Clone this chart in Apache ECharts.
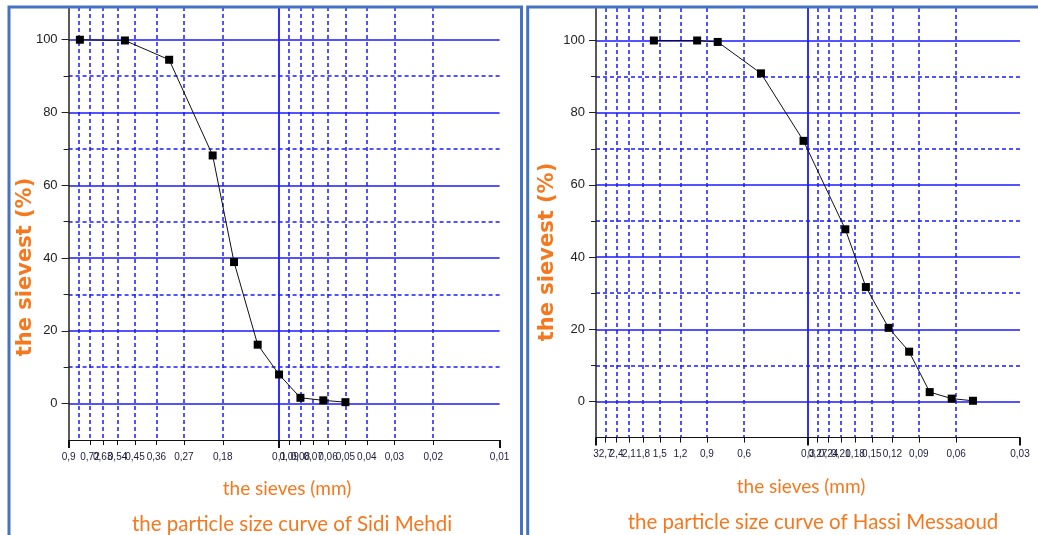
<!DOCTYPE html>
<html><head><meta charset="utf-8">
<script src="https://cdn.jsdelivr.net/npm/echarts@6/dist/echarts.min.js"></script>
<style>html,body{margin:0;padding:0;background:#fff;} #c{width:1038px;height:535px;}</style>
</head><body><div id="c"></div>
<script>
// ---- data ----
const sieveSidi = [0.8, 0.5, 0.315, 0.2, 0.16, 0.125, 0.1, 0.08, 0.063, 0.05];
const passSidi  = [100, 99.8, 94.5, 68.2, 38.9, 16.2, 8.0, 1.6, 0.9, 0.4];
const sieveHassi = [1.6, 1.0, 0.8, 0.5, 0.315, 0.2, 0.16, 0.125, 0.1, 0.08, 0.063, 0.05];
const passHassi  = [100, 100, 99.6, 90.9, 72.2, 47.7, 31.7, 20.4, 13.8, 2.6, 0.8, 0.2];

const ticksSidi = [0.9,0.81,0.72,0.63,0.54,0.45,0.36,0.27,0.18,0.1,0.09,0.08,0.07,0.06,0.05,0.04,0.03,0.02,0.01];
const labelsSidi = ['0,9','0,81','0,72','0,63','0,54','0,45','0,36','0,27','0,18','0,1','0,09','0,08','0,07','0,06','0,05','0,04','0,03','0,02','0,01'];
const ticksHassi = [3,2.7,2.4,2.1,1.8,1.5,1.2,0.9,0.6,0.3,0.27,0.24,0.21,0.18,0.15,0.12,0.09,0.06,0.03];
const labelsHassi = ['3','2,7','2,4','2,1','1,8','1,5','1,2','0,9','0,6','0,3','0,27','0,24','0,21','0,18','0,15','0,12','0,09','0,06','0,03'];
const midSidi = 0.1;
const midHassi = 0.3;
const yMajor = [0, 20, 40, 60, 80, 100];
const yMinor = [10, 30, 50, 70, 90];

const xName = 'the sieves (mm)';
const yName = 'the sievest (%)';
const titleSidi = 'the particle size curve of Sidi Mehdi';
const titleHassi = 'the particle size curve of Hassi Messaoud';

// ---- helpers ----
const lg = d => -Math.log10(d);
const key = v => v.toFixed(6);
const BLUE = '#1a1aff';
const ORANGE = '#F5781F';
const NARROW = "'Liberation Sans Narrow', 'Liberation Sans', 'DejaVu Sans Condensed', sans-serif";

function xAxesFor(gridIndex, ticks, labels, mid) {
  const first = ticks[0], last = ticks[ticks.length - 1];
  const lmap = {};
  ticks.forEach((t, i) => { lmap[key(lg(t))] = labels[i]; });
  const base = { type: 'value', gridIndex, min: lg(first), max: lg(last), position: 'bottom' };
  const minor = ticks.filter(t => t !== first && t !== last && t !== mid).map(lg);
  return [
    Object.assign({}, base, {
      axisLine: { show: true, onZero: false, lineStyle: { color: '#111', width: 1 } },
      axisTick: { show: true, customValues: minor, length: 5, lineStyle: { color: '#111', width: 1 } },
      axisLabel: { show: true, customValues: ticks.map(lg), margin: 12, showMinLabel: true, showMaxLabel: true,
        hideOverlap: false,
        formatter: v => lmap[key(v)] || '', fontFamily: NARROW, fontSize: 10, color: '#1c1c3c' },
      splitLine: { show: true, lineStyle: { color: BLUE, width: 1.5, type: [4, 3] } }
    }),
    Object.assign({}, base, {
      axisLine: { show: false, onZero: false },
      axisTick: { show: true, customValues: [lg(mid)], length: 8, lineStyle: { color: '#111', width: 2 } },
      axisLabel: { show: false },
      splitLine: { show: true, lineStyle: { color: BLUE, width: 1.8 } }
    }),
    Object.assign({}, base, {
      axisLine: { show: false, onZero: false },
      axisTick: { show: true, customValues: [lg(first), lg(last)], length: 8, lineStyle: { color: '#111', width: 2 } },
      axisLabel: { show: false },
      splitLine: { show: false }
    })
  ];
}

function yAxesFor(gridIndex) {
  const base = { type: 'value', gridIndex, min: -10, max: 109, position: 'left' };
  return [
    Object.assign({}, base, {
      axisLine: { show: true, onZero: false, lineStyle: { color: '#222', width: 1.5 } },
      axisTick: { show: true, customValues: yMajor, length: 7, lineStyle: { color: '#222', width: 1 } },
      axisLabel: { show: true, customValues: yMajor, margin: 11, fontFamily: 'Liberation Sans', fontSize: 13, color: '#222' },
      splitLine: { show: true, lineStyle: { color: BLUE, width: 1.5 } }
    }),
    Object.assign({}, base, {
      axisLine: { show: false, onZero: false },
      axisTick: { show: true, customValues: yMinor, length: 5, lineStyle: { color: '#222', width: 1 } },
      axisLabel: { show: false },
      splitLine: { show: true, lineStyle: { color: BLUE, width: 1.5, type: [4, 3] } }
    })
  ];
}

const seriesStyle = {
  type: 'line', symbol: 'rect', symbolSize: 8,
  lineStyle: { color: '#111', width: 1 },
  itemStyle: { color: '#000' },
  z: 10
};

const chart = echarts.init(document.getElementById('c'), null, { renderer: 'canvas' });
chart.setOption({
  animation: false,
  backgroundColor: '#fff',
  grid: [
    { left: 68.6, top: 7, width: 431, height: 433 },
    { left: 596, top: 8, width: 424, height: 429.6 }
  ],
  xAxis: [].concat(xAxesFor(0, ticksSidi, labelsSidi, midSidi), xAxesFor(1, ticksHassi, labelsHassi, midHassi)),
  yAxis: [].concat(yAxesFor(0), yAxesFor(1)),
  series: [
    Object.assign({}, seriesStyle, { xAxisIndex: 0, yAxisIndex: 0,
      data: sieveSidi.map((d, i) => [lg(d), passSidi[i]]) }),
    Object.assign({}, seriesStyle, { xAxisIndex: 3, yAxisIndex: 2,
      data: sieveHassi.map((d, i) => [lg(d), passHassi[i]]) })
  ],
  graphic: [
    { type: 'rect', shape: { x: 9, y: 7, width: 512.5, height: 560 }, style: { fill: 'none', stroke: '#4472C4', lineWidth: 3 }, z: 100 },
    { type: 'rect', shape: { x: 527.7, y: 7, width: 560, height: 560 }, style: { fill: 'none', stroke: '#4472C4', lineWidth: 3 }, z: 100 },
    { type: 'text', x: 26, y: 267, rotation: Math.PI / 2,
      style: { text: yName, fill: ORANGE, font: "bold 21px 'DejaVu Sans'", align: 'center', verticalAlign: 'middle' } },
    { type: 'text', x: 548, y: 252, rotation: Math.PI / 2,
      style: { text: yName, fill: ORANGE, font: "bold 21px 'DejaVu Sans'", align: 'center', verticalAlign: 'middle' } },
    { type: 'text', x: 287, y: 489,
      style: { text: xName, fill: ORANGE, font: '19px Lato', align: 'center', verticalAlign: 'middle' } },
    { type: 'text', x: 292, y: 524,
      style: { text: titleSidi, fill: ORANGE, font: '20.5px Lato', align: 'center', verticalAlign: 'middle' } },
    { type: 'text', x: 801, y: 487,
      style: { text: xName, fill: ORANGE, font: '19px Lato', align: 'center', verticalAlign: 'middle' } },
    { type: 'text', x: 813, y: 522,
      style: { text: titleHassi, fill: ORANGE, font: '20.5px Lato', align: 'center', verticalAlign: 'middle' } }
  ]
});
</script>
</body></html>
